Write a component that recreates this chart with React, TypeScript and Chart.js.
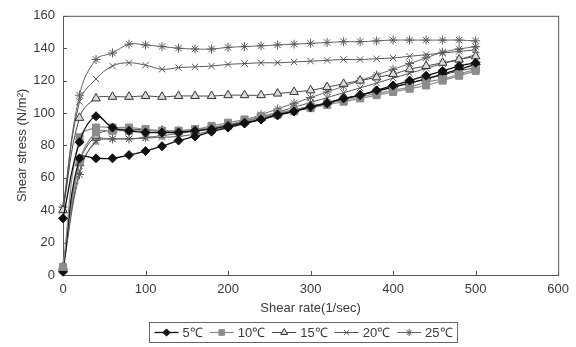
import React, { useEffect, useRef } from "react";
import { Chart, registerables } from "chart.js";
import { drawPoint } from "chart.js/helpers";

Chart.register(...registerables);

// ---------- data ----------
const shearRate = [0, 20, 40, 60, 80, 100, 120, 140, 160, 180, 200, 220, 240, 260, 280, 300, 320, 340, 360, 380, 400, 420, 440, 460, 480, 500];

const tempLabels = ["5℃", "10℃", "15℃", "20℃", "25℃"];

// first group of curves (upper plateaus)
const groupA_5 = [35, 82, 98, 91, 89, 88, 88, 88, 89, 90, 92, 94, 96, 99, 101, 104, 106, 109, 111, 114, 117, 120, 123, 126, 129, 131];
const groupA_10 = [5, 85, 91, 91, 91, 90, 89, 89, 90, 92, 94, 96, 98, 100, 102, 104, 106, 108, 110, 112, 114, 116, 119, 121, 124, 127];
const groupA_15 = [40, 97, 109, 110, 110, 110.5, 110, 110.5, 110.5, 110.5, 111, 111, 111, 112, 113, 114, 116, 118, 120, 122, 124, 127, 129, 131, 133, 135];
const groupA_20 = [40, 107, 121, 129, 131, 129.5, 127, 128, 128.5, 129, 130, 130.5, 131, 131, 131.5, 132, 132.5, 133, 133, 133.5, 134, 135, 136, 137, 138, 139];
const groupA_25 = [42, 111, 133, 137, 142.5, 142, 141, 140, 139.5, 139.5, 140.5, 141, 141.5, 142, 142.5, 143, 143.5, 144, 144, 144.5, 145, 145, 145, 145, 145, 144.5];

// second group of curves (lower, steadily rising)
const groupB_5 = [2, 72, 72, 72, 74, 76.5, 79.5, 83, 85.5, 88.5, 91, 93.5, 96, 98.5, 101, 103.5, 106, 108.5, 111, 113.5, 116, 118.5, 121, 124, 127, 130];
const groupB_10 = [4, 70, 88, 89, 89, 89, 89, 89, 90, 91, 93, 95, 97, 99, 101, 103, 105, 107, 109, 111, 113, 115, 117, 120, 123, 126];
const groupB_15 = [5, 69, 86, 89.5, 90, 89.5, 89, 88.5, 89, 90.5, 92.5, 95, 97, 99.5, 102, 104, 106.5, 109, 111, 113.5, 116, 118.5, 121, 123.5, 126, 128];
const groupB_20 = [4, 64, 82, 84, 84, 84.5, 85, 85.5, 87, 89, 91.5, 94.5, 97.5, 100.5, 103.5, 106.5, 109.5, 112.5, 115.5, 118.5, 121.5, 124.5, 127.5, 130.5, 133, 136];
const groupB_25 = [3, 62, 83, 84, 84, 85, 86, 87.5, 89, 91, 92.5, 95.5, 99, 102.5, 106, 109.5, 113, 116.5, 120, 123.5, 127, 130.5, 134, 137.5, 139.5, 141];

const groupA = [groupA_5, groupA_10, groupA_15, groupA_20, groupA_25];
const groupB = [groupB_5, groupB_10, groupB_15, groupB_20, groupB_25];

const xTickValues = [0, 100, 200, 300, 400, 500, 600];
const yTickValues = [0, 20, 40, 60, 80, 100, 120, 140, 160];

// ---------- styles ----------
const FONT = "'Liberation Sans', Arial, sans-serif";
const TEXT = "#3a3a3a";

const seriesStyles = [
  { pointStyle: "rectRot", radius: 4.5, fill: "#111", stroke: "#111", line: "#111", lineWidth: 1.3 },
  { pointStyle: "rect", radius: 5, fill: "#8c8c8c", stroke: "#8c8c8c", line: "#8c8c8c", lineWidth: 1.2 },
  { pointStyle: "triangle", radius: 5, fill: "#d9d9d9", stroke: "#333", line: "#444", lineWidth: 1 },
  { pointStyle: "crossRot", radius: 4.5, fill: "#555", stroke: "#555", line: "#555", lineWidth: 1 },
  { pointStyle: "star", radius: 4.5, fill: "#5a5a5a", stroke: "#5a5a5a", line: "#666", lineWidth: 1 },
];

const framePlugin = {
  id: "frame",
  beforeDatasetsDraw(chart: any) {
    const { ctx, chartArea, scales } = chart;
    const { left, top, right, bottom } = chartArea;
    ctx.save();
    ctx.strokeStyle = "#555";
    ctx.lineWidth = 1;
    ctx.strokeRect(left + 0.5, top + 0.5, right - left, bottom - top);
    ctx.beginPath();
    for (const v of xTickValues) {
      const px = Math.round(scales.x.getPixelForValue(v)) + 0.5;
      ctx.moveTo(px, bottom);
      ctx.lineTo(px, bottom - 4);
    }
    for (const v of yTickValues) {
      const py = Math.round(scales.y.getPixelForValue(v)) + 0.5;
      ctx.moveTo(left, py);
      ctx.lineTo(left + 4, py);
    }
    ctx.stroke();
    ctx.restore();
  },
  afterDraw(chart: any) {
    const { ctx, chartArea } = chart;
    ctx.save();
    ctx.font = `13px ${FONT}`;
    const lineLen = 24;
    const gapAfterLine = 4;
    const gapAfterText = 7;
    const padX = 5;
    const widths = tempLabels.map((t) => ctx.measureText(t).width);
    let total = padX * 2;
    widths.forEach((w, i) => {
      total += lineLen + gapAfterLine + w + (i < widths.length - 1 ? gapAfterText : 0);
    });
    const cx = 303.5;
    const boxLeft = Math.round(cx - total / 2) + 0.5;
    const boxTop = chartArea.bottom + 47.5;
    const boxH = 20;
    ctx.strokeStyle = "#666";
    ctx.lineWidth = 1;
    ctx.strokeRect(boxLeft, boxTop, total, boxH);
    const cy = boxTop + boxH / 2;
    let x = boxLeft + padX;
    tempLabels.forEach((t, i) => {
      const st = seriesStyles[i];
      ctx.strokeStyle = st.line;
      ctx.lineWidth = st.lineWidth;
      ctx.beginPath();
      ctx.moveTo(x, cy);
      ctx.lineTo(x + lineLen, cy);
      ctx.stroke();
      ctx.fillStyle = st.fill;
      ctx.strokeStyle = st.stroke;
      ctx.lineWidth = 1;
      drawPoint(ctx, { pointStyle: st.pointStyle as any, radius: st.radius * 0.8, rotation: 0, borderWidth: 1 }, x + lineLen / 2, cy);
      x += lineLen + gapAfterLine;
      ctx.fillStyle = TEXT;
      ctx.textBaseline = "middle";
      ctx.textAlign = "left";
      ctx.fillText(t, x, cy + 1);
      x += widths[i] + gapAfterText;
    });
    ctx.restore();
  },
};

export default function App() {
  const ref = useRef<HTMLCanvasElement>(null);

  useEffect(() => {
    const canvas = ref.current;
    if (!canvas) return;
    const datasets: any[] = [];
    [groupA, groupB].forEach((group) => {
      group.forEach((vals, ti) => {
        const st = seriesStyles[ti];
        datasets.push({
          label: tempLabels[ti],
          data: shearRate.map((x, i) => ({ x, y: vals[i] })),
          borderColor: st.line,
          borderWidth: st.lineWidth,
          pointStyle: st.pointStyle,
          pointRadius: st.radius,
          pointBackgroundColor: st.fill,
          pointBorderColor: st.stroke,
          pointBorderWidth: 1,
          tension: 0.4,
          fill: false,
          clip: false,
        });
      });
    });

    const chart = new Chart(canvas, {
      type: "line",
      data: { datasets },
      options: {
        responsive: false,
        animation: false,
        layout: { padding: { left: 0, top: 15, right: 17, bottom: 30 } },
        plugins: { legend: { display: false }, tooltip: { enabled: false } },
        scales: {
          x: {
            type: "linear",
            min: 0,
            max: 600,
            ticks: { stepSize: 100, padding: 7, color: TEXT, font: { family: FONT, size: 13 }, maxRotation: 0 },
            grid: { display: false, drawTicks: false },
            border: { display: false },
            title: { display: true, text: "Shear rate(1/sec)", color: TEXT, font: { family: FONT, size: 13 }, padding: { top: 0, bottom: 1 } },
            afterFit: (s: any) => {
              s.height = 42;
            },
          },
          y: {
            type: "linear",
            min: 0,
            max: 160,
            ticks: { stepSize: 20, padding: 8, color: TEXT, font: { family: FONT, size: 13 } },
            grid: { display: false, drawTicks: false },
            border: { display: false },
            title: { display: true, text: "Shear stress (N/m²)", color: TEXT, font: { family: FONT, size: 13 }, padding: { top: 15, bottom: 0 } },
            afterFit: (s: any) => {
              s.width = 63;
            },
          },
        },
      } as any,
      plugins: [framePlugin],
    });
    return () => chart.destroy();
  }, []);

  return (
    <div style={{ position: "fixed", left: 0, top: 0, width: 576, height: 347, background: "#fff" }}>
      <canvas ref={ref} width={576} height={347} style={{ display: "block", width: 576, height: 347 }} />
    </div>
  );
}
